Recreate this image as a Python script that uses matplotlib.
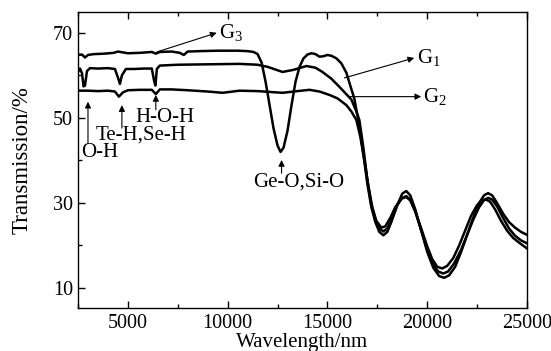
import matplotlib
matplotlib.use("Agg")
import matplotlib.pyplot as plt
from matplotlib.ticker import MultipleLocator

plt.rcParams['font.family'] = ['Liberation Serif', 'DejaVu Serif']
plt.rcParams['mathtext.fontset'] = 'custom'
plt.rcParams['mathtext.rm'] = 'Liberation Serif'
plt.rcParams['mathtext.it'] = 'Liberation Serif:italic'

# ---------------- data ----------------
g3_x = [2500, 2700, 2850, 3000, 3300, 3800, 4300, 4500, 5000, 5600, 6200, 6400, 6600,
        7200, 7600, 7800, 8000, 8600, 9500, 10500, 11000, 11300, 11500, 11700, 11900,
        12100, 12300, 12500, 12650, 12800, 13000, 13200, 13400, 13600, 13800, 14000,
        14200, 14400, 14600, 14800, 15000, 15200, 15450, 15700, 15950, 16150, 16350,
        16600, 16800, 17000, 17200, 17400, 17600, 17800, 18000, 18200, 18500, 18750,
        18950, 19150, 19400, 19700, 20000, 20300, 20600, 20850, 21100, 21400, 21700,
        22000, 22300, 22600, 22850, 23050, 23250, 23500, 23800, 24100, 24400, 24700, 25000]
g3_y = [64.8, 64.9, 64.2, 64.8, 65.0, 65.1, 65.3, 65.6, 65.2, 65.3, 65.5, 65.1, 65.5,
        65.6, 65.3, 64.8, 65.6, 65.7, 65.8, 65.8, 65.7, 65.5, 65.0, 63.0, 58.5,
        53.0, 47.5, 43.5, 42.0, 43.0, 47.0, 53.0, 58.5, 62.0, 64.0, 64.9,
        65.2, 65.0, 64.4, 64.5, 64.8, 64.6, 64.0, 62.8, 60.6, 57.5, 54.5,
        48.0, 41.5, 34.5, 29.0, 25.5, 23.2, 22.4, 23.2, 25.5, 29.5, 32.2,
        32.8, 31.8, 28.5, 23.5, 18.5, 14.8, 12.8, 12.4, 13.0, 15.0, 18.5,
        22.5, 26.5, 30.0, 31.8, 32.3, 31.8, 30.0, 27.5, 25.5, 24.2, 23.2, 22.5]

g1_x = [2500, 2600, 2700, 2780, 2850, 2950, 3100, 3500, 4000, 4350, 4500, 4600, 4700,
        4900, 5300, 5800, 6200, 6300, 6380, 6450, 6600, 7500, 9000, 10600, 11500,
        12000, 12750, 13300, 13950, 14400, 14750, 15200, 15600, 15900, 16200, 16450,
        16600, 16800, 17000, 17200, 17400, 17600, 17800, 18000, 18250, 18500, 18750,
        18950, 19150, 19400, 19700, 20000, 20300, 20550, 20800, 21050, 21350, 21700,
        22000, 22300, 22600, 22850, 23050, 23250, 23500, 23800, 24100, 24400, 24700, 25000]
g1_y = [60.8, 61.6, 60.5, 57.4, 57.6, 61.0, 61.7, 61.6, 61.7, 61.5, 59.5, 58.0, 60.0,
        61.5, 61.5, 61.6, 61.6, 59.0, 57.6, 61.5, 62.3, 62.5, 62.6, 62.7, 62.5,
        62.0, 60.8, 61.3, 62.2, 61.8, 60.8, 59.2, 57.3, 55.8, 54.3, 51.5,
        49.5, 43.0, 35.5, 29.5, 26.0, 24.0, 23.3, 24.0, 26.5, 29.5, 31.2,
        31.6, 30.8, 28.0, 23.5, 19.0, 15.5, 13.9, 13.4, 13.9, 15.8, 19.0,
        22.5, 26.0, 29.0, 30.7, 31.2, 30.8, 29.2, 26.5, 24.0, 22.3, 21.2, 20.5]

g2_x = [2500, 3000, 3500, 4000, 4350, 4550, 4750, 5000, 5600, 6200, 6400, 6600, 7200,
        8000, 9000, 9750, 10600, 11500, 12750, 13500, 14100, 14600, 15100, 15500,
        15950, 16200, 16450, 16650, 16850, 17050, 17250, 17450, 17700, 17900, 18150,
        18400, 18700, 18950, 19150, 19400, 19700, 20000, 20250, 20500, 20750, 21000,
        21300, 21600, 21900, 22200, 22500, 22750, 22950, 23150, 23400, 23700, 24000,
        24300, 24650, 25000]
g2_y = [56.4, 56.4, 56.3, 56.4, 56.2, 55.0, 56.0, 56.5, 56.6, 56.6, 55.6, 56.7, 56.7,
        56.5, 56.2, 55.9, 56.4, 56.3, 55.9, 56.3, 56.6, 56.2, 55.4, 54.6,
        53.0, 51.5, 49.5, 45.5, 40.0, 34.0, 29.0, 25.8, 24.2, 24.5, 26.5,
        29.0, 31.0, 31.4, 30.6, 28.0, 24.0, 19.8, 16.8, 15.0, 14.6, 15.2,
        17.0, 20.0, 23.5, 27.0, 29.5, 30.6, 30.8, 30.3, 28.5, 25.8, 23.5,
        21.8, 20.5, 19.3]

x_major = [5000, 10000, 15000, 20000, 25000]
y_major = [10, 30, 50, 70]

# ---------------- figure ----------------
fig = plt.figure(figsize=(5.51, 3.51), dpi=100)
ax = fig.add_axes([78/551, 1-308/351, (527-78)/551, (308-12)/351])

for xs, ys in [(g1_x, g1_y), (g2_x, g2_y), (g3_x, g3_y)]:
    ax.plot(xs, ys, color='black', lw=1.8, solid_joinstyle='round')

ax.set_xlim(2500, 25000)
ax.set_ylim(5.3, 74.9)
ax.set_xticks(x_major)
ax.set_yticks(y_major)
ax.xaxis.set_minor_locator(MultipleLocator(2500))
ax.yaxis.set_minor_locator(MultipleLocator(10))
ax.tick_params(which='both', direction='in', top=True, right=False, labelsize=14.5, width=1.0)
ax.tick_params(axis='x', pad=4)
ax.tick_params(which='major', length=5)
ax.tick_params(which='minor', length=3)
for s in ax.spines.values():
    s.set_linewidth(1.0)

ax.set_xlabel('Wavelength/nm', fontsize=15)
ax.xaxis.set_label_coords(0.5, -0.085)
ax.xaxis.label.set_va('top')
ax.set_ylabel('Transmission/%', fontsize=16.5)
ax.yaxis.set_label_coords(-0.125, 0.5)
ax.yaxis.label.set_va('center')

arrow = dict(arrowstyle='-|>', lw=0.8, color='black', mutation_scale=9,
             shrinkA=0, shrinkB=0)
fs = 15
ax.annotate('', xy=(9450, 70.0), xytext=(6450, 65.5), arrowprops=arrow)
ax.text(9550, 70.0, 'G$_3$', fontsize=fs, va='center', ha='left')
ax.annotate('', xy=(19350, 64.1), xytext=(15850, 59.4), arrowprops=arrow)
ax.text(19500, 64.2, 'G$_1$', fontsize=fs, va='center', ha='left')
ax.annotate('', xy=(19700, 55.0), xytext=(16100, 55.0), arrowprops=arrow)
ax.text(19800, 55.0, 'G$_2$', fontsize=fs, va='center', ha='left')

ax.annotate('', xy=(3000, 53.8), xytext=(3000, 44.1), arrowprops=arrow)
ax.text(2650, 41.8, 'O-H', fontsize=fs, va='center', ha='left')
ax.annotate('', xy=(4700, 53.0), xytext=(4700, 47.6), arrowprops=arrow)
ax.text(3400, 46.0, 'Te-H,Se-H', fontsize=fs, va='center', ha='left')
ax.annotate('', xy=(6400, 55.4), xytext=(6400, 51.9), arrowprops=arrow)
ax.text(5400, 50.2, 'H-O-H', fontsize=fs, va='center', ha='left')
ax.annotate('', xy=(12700, 40.1), xytext=(12700, 37.0), arrowprops=arrow)
ax.text(13550, 35.0, 'Ge-O,Si-O', fontsize=fs, va='center', ha='center')

fig.savefig('out.png', dpi=100)
